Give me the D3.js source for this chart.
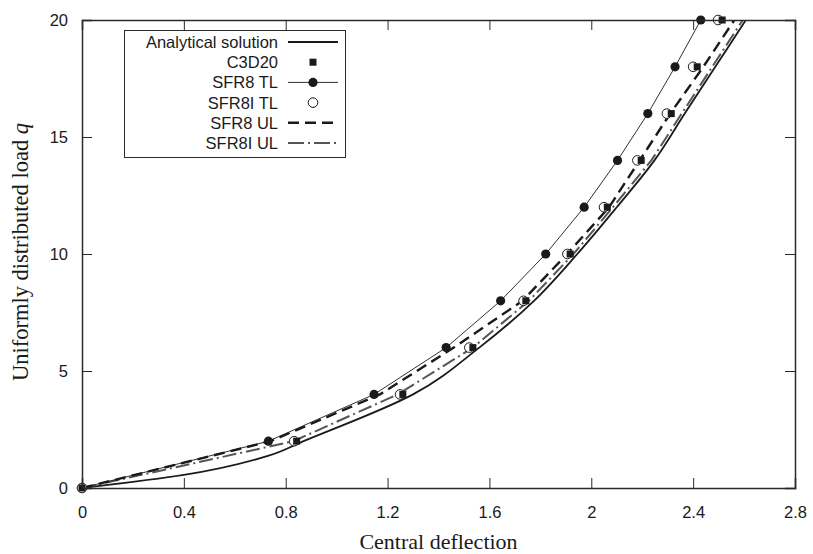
<!DOCTYPE html>
<html>
<head>
<meta charset="utf-8">
<style>
	body{
		margin: 0;
		background: white;
	}
	svg{
		display: block;
	}
	.tick text{
		font-family: "Liberation Sans", Arial, sans-serif;
	}
</style>
</head>
<body>
<script src="https://cdn.jsdelivr.net/npm/d3@7/dist/d3.min.js" charset="utf-8"></script>
<svg width="813" height="554"></svg>
<script>
	// load levels where the FE results were recorded
	var qLevels = [0, 2, 4, 6, 8, 10, 12, 14, 16, 18, 20];
	var c3d20 = [0, 0.843, 1.26, 1.535, 1.743, 1.917, 2.063, 2.196, 2.314, 2.416, 2.514];
	var sfr8TL = [0, 0.732, 1.147, 1.43, 1.644, 1.821, 1.972, 2.103, 2.222, 2.329, 2.43];
	var sfr8iTL = [0, 0.833, 1.249, 1.521, 1.734, 1.906, 2.05, 2.181, 2.297, 2.40, 2.498];
	var sfr8UL = [0, 0.74, 1.17, 1.46, 1.73, 1.905, 2.07, 2.19, 2.31, 2.44, 2.562];
	var sfr8iUL = [0, 0.83, 1.24, 1.535, 1.755, 1.93, 2.085, 2.236, 2.355, 2.475, 2.595];

	// analytical curve
	var anaQ = [0, 0.56, 1.37, 2, 4, 6, 8, 10, 12, 14, 16, 18, 20];
	var anaW = [0, 0.4, 0.73, 0.87, 1.30, 1.56, 1.775, 1.945, 2.10, 2.248, 2.367, 2.487, 2.607];

	var xTicks = [0, 0.4, 0.8, 1.2, 1.6, 2, 2.4, 2.8];
	var yTicks = [0, 5, 10, 15, 20];

	var legendNames = ["Analytical solution", "C3D20", "SFR8 TL", "SFR8I TL", "SFR8 UL", "SFR8I UL"];

	var L = 82, R = 795, T = 20, B = 488;
	var svg = d3.select("svg");

	var x = d3.scaleLinear().domain([0, 2.8]).range([L, R]);
	var y = d3.scaleLinear().domain([0, 20]).range([B, T]);

	function pairs(ws, qs){
		return ws.map(function(w, i){ return [w, qs[i]]; });
	}
	var line = d3.line()
		.x(function(d){ return x(d[0]); })
		.y(function(d){ return y(d[1]); });

	svg.append("clipPath").attr("id", "plotClip")
		.append("rect")
		.attr("x", L).attr("y", T)
		.attr("width", R - L).attr("height", B - T);

	var plot = svg.append("g").attr("clip-path", "url(#plotClip)");

	// curves
	plot.append("path")
		.attr("d", line.curve(d3.curveMonotoneY)(pairs(anaW, anaQ)))
		.attr("fill", "none").attr("stroke", "#1a1a1a").attr("stroke-width", 1.8);
	line.curve(d3.curveLinear);
	plot.append("path")
		.attr("d", line(pairs(sfr8iUL, qLevels)))
		.attr("fill", "none").attr("stroke", "#555").attr("stroke-width", 2)
		.attr("stroke-dasharray", "14,4,2,4");
	plot.append("path")
		.attr("d", line(pairs(sfr8UL, qLevels)))
		.attr("fill", "none").attr("stroke", "#1a1a1a").attr("stroke-width", 2.4)
		.attr("stroke-dasharray", "11,6");
	plot.append("path")
		.attr("d", line(pairs(sfr8TL, qLevels)))
		.attr("fill", "none").attr("stroke", "#1a1a1a").attr("stroke-width", 0.9);

	// markers
	svg.selectAll(".tl").data(pairs(sfr8TL, qLevels)).enter()
		.append("circle")
		.attr("cx", function(d){ return x(d[0]); })
		.attr("cy", function(d){ return y(d[1]); })
		.attr("r", 4.6).attr("fill", "#1a1a1a");
	svg.selectAll(".tli").data(pairs(sfr8iTL, qLevels)).enter()
		.append("circle")
		.attr("cx", function(d){ return x(d[0]); })
		.attr("cy", function(d){ return y(d[1]); })
		.attr("r", 4.8).attr("fill", "white").attr("stroke", "#1a1a1a").attr("stroke-width", 1);
	svg.selectAll(".c3d").data(pairs(c3d20, qLevels)).enter()
		.append("rect")
		.attr("x", function(d){ return x(d[0]) - 3.5; })
		.attr("y", function(d){ return y(d[1]) - 3.5; })
		.attr("width", 7).attr("height", 7).attr("fill", "#1a1a1a");

	// axes, ticks pointing inward
	var axisCol = "#2a2a2a";
	var gx = svg.append("g").attr("transform", "translate(0," + B + ")")
		.call(d3.axisBottom(x).tickValues(xTicks).tickSize(-10).tickPadding(18)
			.tickFormat(function(d){ return String(+d.toFixed(1)); }));
	var gxt = svg.append("g").attr("transform", "translate(0," + T + ")")
		.call(d3.axisTop(x).tickValues(xTicks).tickSize(-10).tickFormat(""));
	var gy = svg.append("g").attr("transform", "translate(" + L + ",0)")
		.call(d3.axisLeft(y).tickValues(yTicks).tickSize(-10).tickPadding(14));
	var gyr = svg.append("g").attr("transform", "translate(" + R + ",0)")
		.call(d3.axisRight(y).tickValues(yTicks).tickSize(-10).tickFormat(""));
	[gx, gxt, gy, gyr].forEach(function(g){
		g.select(".domain").attr("stroke", axisCol).attr("stroke-width", 1.5);
		g.selectAll(".tick line").attr("stroke", axisCol).attr("stroke-width", 1);
		g.selectAll(".tick text").attr("fill", "#1a1a1a").style("font-size", "16.5px");
	});

	// axis titles
	svg.append("text")
		.attr("x", (L + R) / 2).attr("y", 549)
		.attr("text-anchor", "middle")
		.style("font-family", "'Liberation Serif', 'Times New Roman', serif")
		.style("font-size", "22px").attr("fill", "#1a1a1a")
		.text("Central deflection");
	var yt = svg.append("text")
		.attr("transform", "translate(28,252) rotate(-90)")
		.attr("text-anchor", "middle")
		.style("font-family", "'Liberation Serif', 'Times New Roman', serif")
		.style("font-size", "22.5px").attr("fill", "#1a1a1a");
	yt.append("tspan").text("Uniformly distributed load ");
	yt.append("tspan").style("font-style", "italic").text("q");

	// legend
	var lg = svg.append("g");
	lg.append("rect")
		.attr("x", 124.5).attr("y", 30.5).attr("width", 221).attr("height", 127)
		.attr("fill", "white").attr("stroke", axisCol).attr("stroke-width", 1);
	var rowY = function(i){ return 42 + i * 20.2; };
	legendNames.forEach(function(name, i){
		lg.append("text")
			.attr("x", 278).attr("y", rowY(i) + 6)
			.attr("text-anchor", "end")
			.style("font-family", "'Liberation Sans', Arial, sans-serif")
			.style("font-size", "16.5px").attr("fill", "#1a1a1a")
			.text(name);
	});
	var sx0 = 288, sx1 = 338, sc = 313;
	lg.append("line").attr("x1", sx0).attr("x2", sx1).attr("y1", rowY(0)).attr("y2", rowY(0))
		.attr("stroke", "#1a1a1a").attr("stroke-width", 1.8);
	lg.append("rect").attr("x", sc - 3.5).attr("y", rowY(1) - 3.5).attr("width", 7).attr("height", 7)
		.attr("fill", "#1a1a1a");
	lg.append("line").attr("x1", sx0).attr("x2", sx1).attr("y1", rowY(2)).attr("y2", rowY(2))
		.attr("stroke", "#1a1a1a").attr("stroke-width", 0.9);
	lg.append("circle").attr("cx", sc).attr("cy", rowY(2)).attr("r", 4.6).attr("fill", "#1a1a1a");
	lg.append("circle").attr("cx", sc).attr("cy", rowY(3)).attr("r", 4.8)
		.attr("fill", "white").attr("stroke", "#1a1a1a").attr("stroke-width", 1);
	lg.append("line").attr("x1", sx0).attr("x2", sx1).attr("y1", rowY(4)).attr("y2", rowY(4))
		.attr("stroke", "#1a1a1a").attr("stroke-width", 2.4).attr("stroke-dasharray", "11,6");
	lg.append("line").attr("x1", sx0).attr("x2", sx1).attr("y1", rowY(5)).attr("y2", rowY(5))
		.attr("stroke", "#555").attr("stroke-width", 2).attr("stroke-dasharray", "16,4,2,4");
</script>
</body>
</html>
